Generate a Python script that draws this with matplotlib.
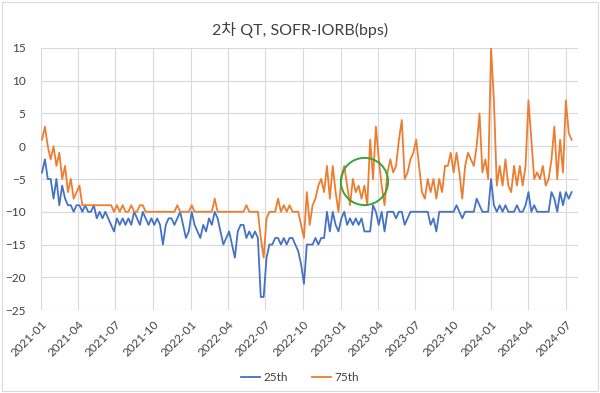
import matplotlib
matplotlib.use("Agg")
import matplotlib.pyplot as plt
import matplotlib.dates as mdates
from matplotlib.patches import Rectangle
import pandas as pd

plt.rcParams['font.family'] = ['Lato', 'Noto Sans CJK KR', 'DejaVu Sans']

# weekly observations (Mondays) starting 2021-01-04
start_date = "2021-01-04"

p25 = [
    -4, -2, -5, -5, -8, -5, -9, -6, -8, -9, -9, -10, -9, -9,
    -10, -9, -10, -10, -9, -11, -10, -11, -10, -11, -12, -13,
    -11, -12, -11, -12, -11, -12, -10, -11, -12, -10, -11, -12, -11,
    -12, -11, -12, -15, -12, -11, -11, -12, -11, -10, -12, -14, -13,
    -10, -12, -13, -14, -12, -13, -11, -12, -10, -11, -13, -15, -14,
    -13, -15, -17, -13, -12, -12, -14, -13, -14, -13, -14, -23, -23,
    -17, -15, -15, -14, -14, -15, -14, -15, -14, -14, -15, -16,
    -18, -21, -15, -15, -15, -14, -15, -14, -14, -10, -13,
    -10, -12, -13, -11, -10, -12, -11, -12, -11, -12, -11, -13, -13,
    -13, -9, -10, -12, -10, -13, -10, -10, -10, -11, -10, -10, -12,
    -11, -10, -10, -10, -10, -10, -10, -10, -12, -11, -13, -10, -10,
    -10, -10, -10, -10, -9, -10, -11, -10, -10, -10, -10, -8, -9,
    -10, -10, -10, -5, -9, -10, -9, -10, -9, -10, -10, -10, -9,
    -10, -10, -9, -7, -10, -9, -10, -10, -10, -10, -10, -7, -8,
    -10, -7, -9, -7, -8, -7,
]

p75 = [
    1, 3, 0, -2, 0, -3, -1, -5, -3, -7, -5, -8, -7, -6,
    -9, -9, -9, -9, -9, -9, -9, -9, -9, -9, -9, -10,
    -9, -10, -9, -10, -10, -9, -10, -10, -9, -9, -10, -10, -10,
    -10, -10, -10, -10, -10, -10, -10, -10, -9, -10, -10, -10, -10,
    -9, -10, -10, -10, -10, -10, -10, -10, -8, -10, -10, -10, -10,
    -10, -10, -10, -10, -10, -10, -9, -10, -10, -10, -10, -14, -17,
    -11, -10, -10, -10, -8, -10, -9, -10, -9, -10, -10, -10,
    -12, -14, -7, -12, -9, -8, -6, -5, -7, -3, -8,
    -3, -7, -10, -5, -3, -6, -9, -5, -7, -6, -8, -6, -9,
    1, -5, 3, -2, -6, -9, -4, -2, -4, -3, 1, 4, -5,
    -4, -2, -1, 1, -3, -7, -8, -5, -7, -5, -8, -5, -7,
    -3, -3, -1, -4, -1, -4, -8, -3, -1, -2, -3, 0, 5,
    -4, -2, -5, 15, 7, -6, -3, -6, -2, -6, -7, -3, -6,
    -3, -6, -3, 7, 1, -5, -4, -5, -3, -6, -5, -2, 3,
    -5, 1, -4, 7, 2, 1,
]

series_names = ["25th", "75th"]
series_colors = ["#4472C4", "#ED7D31"]

title = "2차 QT, SOFR-IORB(bps)"
x_limits = ("2021-01-01", "2024-07-30")
y_ticks = [-25, -20, -15, -10, -5, 0, 5, 10, 15]

# highlighted zone (green circle)
circle_date = "2023-02-27"
circle_value = -5.3

dates = pd.date_range(start_date, periods=len(p25), freq="7D")

fig = plt.figure(figsize=(6.0, 3.93), dpi=100)
ax = fig.add_axes([0.068, 0.211, 0.895, 0.667])

ax.plot(dates, p25, color=series_colors[0], lw=1.3, label=series_names[0], zorder=3)
ax.plot(dates, p75, color=series_colors[1], lw=1.3, label=series_names[1], zorder=3)

ax.plot([pd.Timestamp(circle_date)], [circle_value], marker="o", ms=34,
        mfc="none", mec="#3BA33B", mew=1.4, zorder=4)

ax.set_xlim(pd.Timestamp(x_limits[0]), pd.Timestamp(x_limits[1]))
ax.set_ylim(y_ticks[0], y_ticks[-1])
ax.set_yticks(y_ticks)

ax.xaxis.set_major_locator(mdates.MonthLocator(bymonth=[1, 4, 7, 10]))
ax.xaxis.set_major_formatter(mdates.DateFormatter("%Y-%m"))
for lbl in ax.get_xticklabels():
    lbl.set_rotation(45)
    lbl.set_ha("right")
    lbl.set_rotation_mode("anchor")

ax.tick_params(axis="x", length=0, pad=6, labelsize=8.5, colors="#404040")
ax.tick_params(axis="y", length=0, pad=11, labelsize=8.5, colors="#404040")

ax.grid(True, color="#D9D9D9", lw=0.8)
ax.set_axisbelow(True)
for s in ax.spines.values():
    s.set_visible(False)

# category axis crossing at zero
zero_frac = (0 - y_ticks[0]) / (y_ticks[-1] - y_ticks[0])
sec = ax.secondary_xaxis(zero_frac)
sec.xaxis.set_major_locator(mdates.MonthLocator(bymonth=[1, 4, 7, 10]))
sec.tick_params(axis="x", direction="out", length=3, width=0.8, color="black",
                labelbottom=False, labeltop=False, bottom=True, top=False)
sec.spines["bottom"].set_color("black")
sec.spines["bottom"].set_linewidth(1.0)
sec.spines["top"].set_visible(False)

fig.suptitle(title, x=0.5, y=0.945, fontsize=11.5, color="#404040")

fig.legend(loc="center", bbox_to_anchor=(0.5, 0.04), ncol=2, frameon=False,
           fontsize=8.5, handlelength=1.6, handletextpad=0.3, columnspacing=2.0,
           labelcolor="#404040")

fig.patches.append(Rectangle((0.004, 0.004), 0.992, 0.992, transform=fig.transFigure,
                             fill=False, edgecolor="#D9D9D9", lw=0.8))

fig.savefig("out.png", dpi=100)
